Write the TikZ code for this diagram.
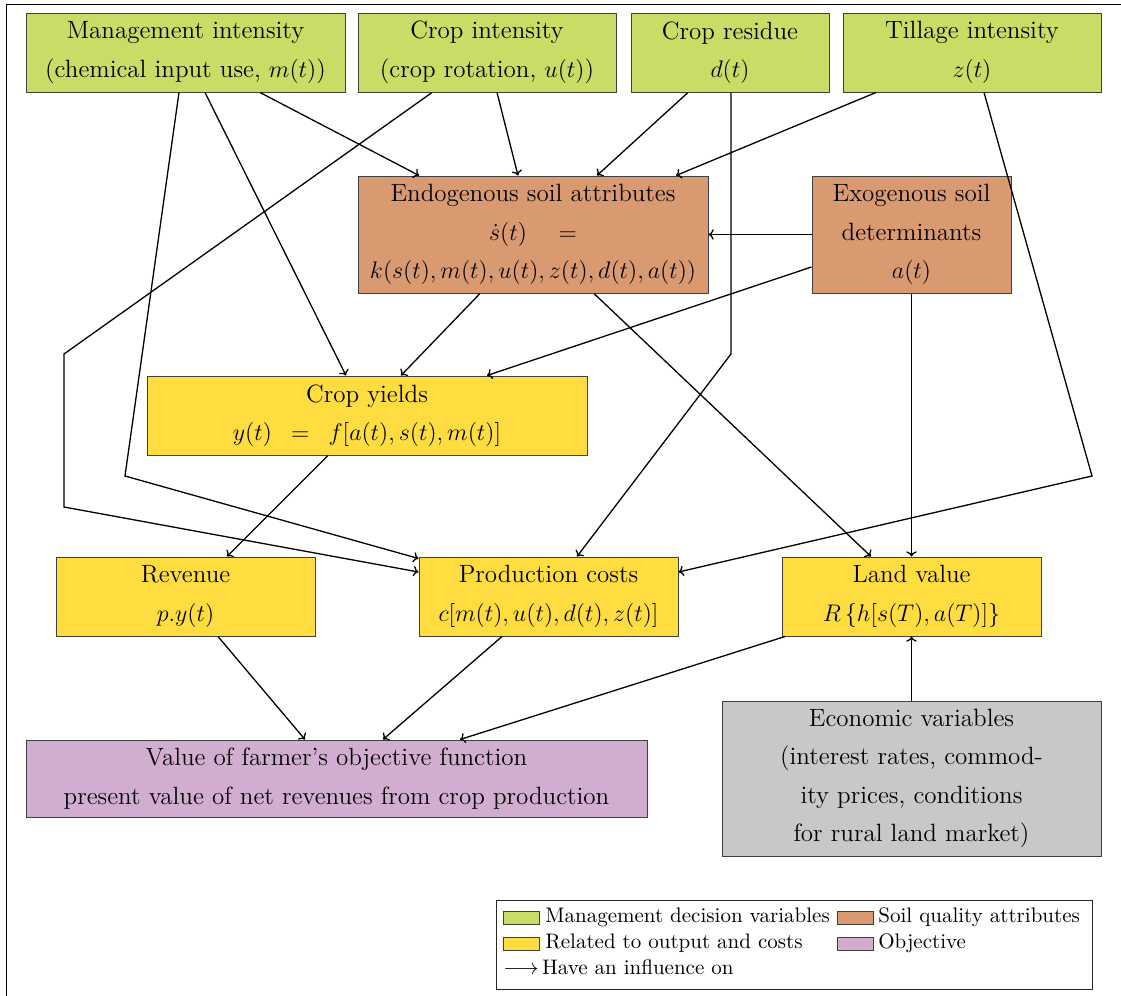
\documentclass[tikz,border=0pt]{standalone}
\usetikzlibrary{arrows.meta,calc}
\definecolor{cgreen}{RGB}{200,220,102}
\definecolor{corange}{RGB}{217,154,114}
\definecolor{cyellow}{RGB}{255,221,64}
\definecolor{cpurple}{RGB}{209,174,208}
\definecolor{cgray}{RGB}{199,200,202}
\newcommand\mfont{\fontsize{12.5}{19.3}\selectfont}
\newcommand\lfont{\fontsize{10.5}{13}\selectfont}
\begin{document}
\begin{tikzpicture}[x=0.5pt,y=-0.5pt,
  box/.style={draw=black!75,line width=0.5pt,inner sep=0pt,align=center,font=\mfont},
  conn/.style={-{To[length=2.6pt,width=5.2pt]},line width=0.65pt},
  swatch/.style={draw=black!75,line width=0.5pt,minimum width=18pt,minimum height=6.5pt,inner sep=0pt},
  legtext/.style={anchor=west,inner sep=0pt,font=\lfont,text height=1.6ex,text depth=0.3ex}]
\useasboundingbox (0,0) rectangle (1121,996);
% frame
\coordinate (f1) at (6,996);
\coordinate (f2) at (6,4);
\coordinate (f3) at (1121,4);
\draw[line width=0.5pt] (f1) -- (f2) -- (f3);
% top row
\node[box,fill=cgreen,minimum width=159.5pt,minimum height=39.5pt] (mgmt) at (185.5,52.5) {Management intensity\\(chemical input use, $m(t)$)};
\node[box,fill=cgreen,minimum width=129pt,minimum height=39.5pt] (cropint) at (487,52.5) {Crop intensity\\(crop rotation, $u(t)$)};
\node[box,fill=cgreen,minimum width=99pt,minimum height=39.5pt] (residue) at (730,52.5) {Crop residue\\$d(t)$};
\node[box,fill=cgreen,minimum width=129pt,minimum height=39.5pt] (tillage) at (972,52.5) {Tillage intensity\\$z(t)$};
% soil
\node[box,fill=corange,minimum width=175pt,minimum height=58.5pt] (endo) at (533,234.5) {Endogenous soil attributes\\$\dot{s}(t)\quad=$\\$k(s(t),m(t),u(t),z(t),d(t),a(t))$};
\node[box,fill=corange,minimum width=99.5pt,minimum height=58.5pt] (exo) at (911.5,234.5) {Exogenous soil\\determinants\\$a(t)$};
% yields
\node[box,fill=cyellow,minimum width=220pt,minimum height=39.5pt] (yields) at (367,415.5) {Crop yields\\$y(t)\enspace=\enspace f[a(t),s(t),m(t)]$};
% third row
\node[box,fill=cyellow,minimum width=129.5pt,minimum height=39.5pt] (revenue) at (185.5,596.5) {Revenue\\$p.y(t)$};
\node[box,fill=cyellow,minimum width=129.5pt,minimum height=39.5pt] (costs) at (548.5,596.5) {Production costs\\$c[m(t),u(t),d(t),z(t)]$};
\node[box,fill=cyellow,minimum width=129.5pt,minimum height=39.5pt] (land) at (911.5,596.5) {Land value\\$R\left\{h[s(T),a(T)]\right\}$};
% bottom
\node[box,fill=cpurple,minimum width=310.5pt,minimum height=38.5pt] (obj) at (336.5,778.5) {Value of farmer's objective function\\present value of net revenues from crop production};
\node[box,fill=cgray,minimum width=189.5pt,minimum height=77.5pt] (econ) at (911.5,778.5) {Economic variables\\(interest rates, commod-\\ity prices, conditions\\for rural land market)};
% bend points
\coordinate (c1) at (125,476);
\coordinate (c2a) at (64,354);
\coordinate (c2b) at (64,507);
\coordinate (c3) at (731,354);
\coordinate (c4) at (1092,476);
% connectors
\draw[conn] ($(mgmt.south)+(74.5,0)$) -- ($(endo.north)+(-114,0)$);
\draw[conn] ($(mgmt.south)+(19.5,0)$) -- ($(yields.north)+(-21,0)$);
\draw[conn] ($(mgmt.south)+(-6.5,0)$) -- (c1) -- ($(costs.west)+(0,-38)$);
\draw[conn] ($(cropint.south)+(-55,0)$) -- (c2a) -- (c2b) -- ($(costs.west)+(0,-24.5)$);
\draw[conn] ($(cropint.south)+(10,0)$) -- ($(endo.north)+(-15,0)$);
\draw[conn] ($(residue.south)+(-42,0)$) -- ($(endo.north)+(64,0)$);
\draw[conn] ($(residue.south)+(1,0)$) -- (c3) -- ($(costs.north)+(28.5,0)$);
\draw[conn] ($(tillage.south)+(-96,0)$) -- ($(endo.north)+(143,0)$);
\draw[conn] ($(tillage.south)+(12,0)$) -- (c4) -- ($(costs.east)+(0,-24.5)$);
\draw[conn] ($(endo.south)+(-53,0)$) -- ($(yields.north)+(34,0)$);
\draw[conn] ($(endo.south)+(61,0)$) -- ($(land.north)+(-40.5,0)$);
\draw[conn] (exo.west) -- (endo.east);
\draw[conn] ($(exo.west)+(0,32.5)$) -- ($(yields.north)+(120,0)$);
\draw[conn] (exo.south) -- (land.north);
\draw[conn] ($(yields.south)+(-39,0)$) -- ($(revenue.north)+(41.5,0)$);
\draw[conn] ($(revenue.south)+(32.5,0)$) -- ($(obj.north)+(-31.5,0)$);
\draw[conn] ($(costs.south)+(-46.5,0)$) -- ($(obj.north)+(46.5,0)$);
\draw[conn] ($(land.south)+(-126.5,0)$) -- ($(obj.north)+(123.5,0)$);
\draw[conn] (econ.north) -- (land.south);
% legend
\node[draw=black!85,line width=0.5pt,minimum width=298pt,minimum height=44.5pt,inner sep=0pt] (legend) at (794,944.5) {};
\node[swatch,fill=cgreen] (sw1) at (521,917.5) {};
\node[swatch,fill=corange] (sw2) at (855,917.5) {};
\node[swatch,fill=cyellow] (sw3) at (521,943.5) {};
\node[swatch,fill=cpurple] (sw4) at (855,943.5) {};
\node[legtext] (lt1) at (545,917) {Management decision variables};
\node[legtext] (lt2) at (878,917) {Soil quality attributes};
\node[legtext] (lt3) at (545,943) {Related to output and costs};
\node[legtext] (lt4) at (878,943) {Objective};
\node[legtext] (lt5) at (503,969) {$\longrightarrow$\,Have an influence on};
\end{tikzpicture}
\end{document}
